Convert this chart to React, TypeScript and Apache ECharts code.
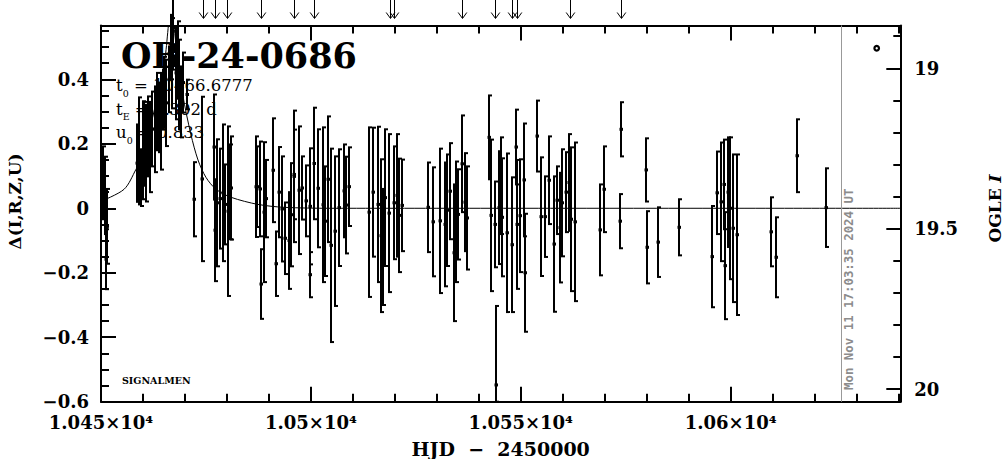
import { useEffect, useRef } from "react";
import * as echarts from "echarts";

// ---------- data (HJD - 2450000, Δ, error) ----------
const hjd = [
  10450.5, 10451.0, 10451.2, 10451.5,
  10458.6, 10459.0, 10459.5, 10459.9, 10460.3, 10460.7, 10461.3, 10461.7, 10462.1, 10462.9, 10463.3, 10463.7, 10464.2, 10464.7, 10465.0, 10465.5, 10466.1, 10466.6, 10466.9, 10467.1, 10467.9, 10468.3, 10468.6, 10469.1, 10469.6, 10470.5,
  10472.2, 10474.0, 10476.9, 10477.2, 10477.6, 10478.3, 10479.0, 10479.5, 10480.2, 10480.7, 10481.0,
  10486.9, 10487.2, 10487.9, 10488.0, 10488.9, 10489.3, 10490.9, 10491.8, 10492.4, 10493.0, 10493.8, 10494.8, 10495.3, 10495.9, 10496.0, 10497.2, 10497.8, 10498.8, 10499.8, 10499.9, 10500.8, 10501.7, 10502.8, 10503.3, 10504.0, 10504.8, 10505.7, 10506.7, 10507.8, 10508.4, 10509.1,
  10513.9, 10514.8, 10515.9, 10516.8, 10517.2, 10517.6, 10518.6, 10519.8, 10520.4, 10521.0, 10521.8,
  10527.8, 10529.0, 10530.8, 10531.9, 10532.5, 10533.2, 10534.0, 10534.5, 10535.1, 10536.0, 10536.7, 10537.2,
  10542.5, 10542.8, 10543.9, 10544.0, 10544.9, 10545.2, 10545.6, 10546.7, 10547.9, 10548.8, 10549.0, 10549.8, 10550.8, 10551.0,
  10553.8, 10554.8, 10555.7, 10556.7, 10557.8, 10558.7, 10559.3, 10559.8, 10560.7, 10561.4, 10561.9, 10562.9,
  10568.9, 10569.8, 10573.6, 10573.8, 10579.9, 10580.0, 10582.8, 10587.7,
  10595.6, 10596.7, 10597.6, 10598.4, 10598.7, 10599.4, 10599.8, 10600.6, 10601.6, 10609.7, 10610.7, 10615.7, 10622.6,
];
const delta = [
  0.079, 0.04, -0.158, -0.056,
  0.14, 0.178, 0.095, 0.18, 0.2, 0.171, 0.223, 0.19, 0.246, 0.245, 0.3, 0.282, 0.27, 0.337, 0.36, 0.327, 0.4, 0.5, 0.45, 0.56, 0.42, 0.46, 0.384, 0.33, 0.39, 0.353,
  0.028, 0.091, 0.19, -0.068, 0.017, 0.03, 0.048, 0.012, -0.009, 0.051, 0.063,
  0.067, 0.067, 0.06, -0.235, -0.012, 0.03, 0.118, -0.172, 0.05, -0.002, -0.093, -0.1, -0.02, 0.099, 0.105, 0.056, 0.063, 0.023, 0.006, -0.206, 0.139, 0.062, 0.011, -0.04, 0.09, -0.115, -0.071, 0.002, 0.054, 0.01, 0.067,
  -0.012, 0.05, 0.012, -0.085, -0.12, 0.033, -0.015, 0.017, 0.04, -0.022, 0.009,
  0.003, -0.042, -0.039, -0.05, -0.006, 0.053, -0.138, -0.042, -0.019, 0.138, 0.019, -0.03,
  0.22, -0.022, -0.05, -0.548, 0.002, 0.07, -0.028, -0.076, -0.113, 0.19, -0.05, -0.023, 0.088, -0.2,
  0.224, -0.026, -0.026, 0.087, -0.111, 0.025, -0.06, 0.017, 0.05, 0.08, -0.034, -0.042,
  -0.067, 0.059, -0.04, 0.245, 0.119, -0.121, -0.105, -0.059,
  -0.15, 0.048, 0.02, 0.074, -0.178, 0.05, 0.0, -0.062, -0.082, -0.073, -0.152, 0.163, 0.002,
];
const deltaErr = [
  0.113, 0.12, 0.093, 0.116,
  0.12, 0.166, 0.088, 0.152, 0.13, 0.15, 0.124, 0.14, 0.116, 0.133, 0.12, 0.108, 0.15, 0.093, 0.11, 0.134, 0.102, 0.1, 0.14, 0.13, 0.144, 0.12, 0.139, 0.11, 0.093, 0.046,
  0.115, 0.255, 0.163, 0.158, 0.197, 0.155, 0.212, 0.124, 0.263, 0.147, 0.16,
  0.156, 0.125, 0.147, 0.108, 0.217, 0.12, 0.161, 0.1, 0.14, 0.163, 0.111, 0.15, 0.16, 0.204, 0.139, 0.198, 0.098, 0.11, 0.18, 0.07, 0.173, 0.183, 0.24, 0.17, 0.195, 0.3, 0.232, 0.181, 0.144, 0.15, 0.122,
  0.263, 0.2, 0.241, 0.237, 0.18, 0.212, 0.245, 0.175, 0.19, 0.176, 0.142,
  0.139, 0.169, 0.224, 0.192, 0.173, 0.149, 0.212, 0.187, 0.14, 0.15, 0.152, 0.16,
  0.13, 0.235, 0.133, 0.245, 0.175, 0.15, 0.183, 0.246, 0.209, 0.116, 0.2, 0.175, 0.175, 0.183,
  0.11, 0.184, 0.125, 0.136, 0.21, 0.105, 0.17, 0.166, 0.124, 0.15, 0.223, 0.246,
  0.141, 0.133, 0.084, 0.084, 0.098, 0.112, 0.108, 0.087,
  0.157, 0.128, 0.184, 0.139, 0.166, 0.17, 0.22, 0.229, 0.249, 0.107, 0.124, 0.113, 0.122,
];

// model curve
const modelT = [10450.0, 10455.5, 10458.3, 10460.0, 10461.9, 10463.8, 10465.2, 10466.7, 10468.1, 10469.5, 10471.4, 10473.1, 10475.0, 10477.4, 10481.0, 10487.4, 10493.6, 10504.8, 10640.4];
const modelDelta = [0.022, 0.059, 0.12, 0.167, 0.26, 0.37, 0.46, 0.62, 0.48, 0.35, 0.23, 0.15, 0.096, 0.059, 0.034, 0.012, 0.003, 0.0, 0.0];

// arrows on top (marked epochs)
const arrowT = [10474.2, 10477.1, 10480.0, 10488.1, 10495.9, 10500.7, 10518.9, 10519.8, 10536.0, 10543.9, 10547.9, 10549.0, 10561.7, 10573.8];
const nowT = 10626.4;

// ticks
const xMajor = [10450, 10500, 10550, 10600];
const xMinor = [10460, 10470, 10480, 10490, 10510, 10520, 10530, 10540, 10560, 10570, 10580, 10590, 10610, 10620, 10630, 10640];
const yMajor = [-0.6, -0.4, -0.2, 0, 0.2, 0.4];
const yMinor = [-0.55, -0.5, -0.45, -0.35, -0.3, -0.25, -0.15, -0.1, -0.05, 0.05, 0.1, 0.15, 0.25, 0.3, 0.35, 0.45, 0.5, 0.55];
const magMajor = [19, 19.5, 20];
const magMinor = [18.9, 19.1, 19.2, 19.3, 19.4, 19.6, 19.7, 19.8, 19.9];

const X_MIN = 10450, X_MAX = 10640.4;
const Y_MIN = -0.6, Y_MAX = 0.567;
const M_MIN = 18.8665, M_MAX = 20.0396;

const FONT = "DejaVu Serif";

export default function App() {
  const ref = useRef<HTMLDivElement>(null);
  useEffect(() => {
    document.body.style.margin = "0";
    const chart = echarts.init(ref.current!, null, { renderer: "svg" });
    const black = "#000";
    const tickStyle = { color: black, width: 2 };
    const labelFont = { color: black, fontFamily: FONT, fontSize: 18, fontWeight: "bold" as const };
    const minorX = (pos: string) => ({
      gridIndex: 0, type: "value", position: pos, min: X_MIN, max: X_MAX,
      axisLine: { show: false, onZero: false },
      axisTick: { show: true, inside: true, length: 8, customValues: xMinor, lineStyle: tickStyle },
      axisLabel: { show: false }, splitLine: { show: false },
    });
    const fmtX = (v: number) => parseFloat((v / 1e4).toFixed(4)).toString() + "×10⁴";
    const fmtY = (v: number) => (Math.abs(v) < 1e-9 ? "0" : v.toFixed(1).replace("-", "−"));

    const option: any = {
      animation: false,
      backgroundColor: "#fff",
      textStyle: { fontFamily: FONT },
      grid: [
        { left: 101, top: 25.5, width: 799.3, height: 376.2, outerBoundsMode: "none", containLabel: false },
        { left: 101, top: 0, width: 799.3, height: 25, outerBoundsMode: "none", containLabel: false },
      ],
      xAxis: [
        {
          gridIndex: 0, type: "value", position: "bottom", min: X_MIN, max: X_MAX,
          axisLine: { show: true, onZero: false, lineStyle: tickStyle },
          axisTick: { show: true, inside: true, length: 15, customValues: xMajor, lineStyle: tickStyle },
          axisLabel: { show: true, customValues: xMajor, margin: 12, formatter: fmtX, ...labelFont },
          splitLine: { show: false },
          name: "HJD  −  2450000", nameLocation: "middle", nameGap: 38,
          nameTextStyle: { ...labelFont, fontSize: 19 },
        },
        minorX("bottom"),
        {
          gridIndex: 0, type: "value", position: "top", min: X_MIN, max: X_MAX,
          axisLine: { show: true, onZero: false, lineStyle: tickStyle },
          axisTick: { show: true, inside: true, length: 15, customValues: xMajor, lineStyle: tickStyle },
          axisLabel: { show: false }, splitLine: { show: false },
        },
        minorX("top"),
        { gridIndex: 1, type: "value", min: X_MIN, max: X_MAX, show: false },
      ],
      yAxis: [
        {
          gridIndex: 0, type: "value", position: "left", min: Y_MIN, max: Y_MAX,
          axisLine: { show: true, onZero: false, lineStyle: tickStyle },
          axisTick: { show: true, inside: true, length: 15, customValues: yMajor, lineStyle: tickStyle },
          axisLabel: { show: true, customValues: yMajor, margin: 12, formatter: fmtY, ...labelFont },
          splitLine: { show: false },
        },
        {
          gridIndex: 0, type: "value", position: "left", min: Y_MIN, max: Y_MAX,
          axisLine: { show: false, onZero: false },
          axisTick: { show: true, inside: true, length: 8, customValues: yMinor, lineStyle: tickStyle },
          axisLabel: { show: false }, splitLine: { show: false },
        },
        {
          gridIndex: 0, type: "value", position: "right", min: M_MIN, max: M_MAX, inverse: true,
          axisLine: { show: true, onZero: false, lineStyle: tickStyle },
          axisTick: { show: true, inside: true, length: 14, customValues: magMajor, lineStyle: tickStyle },
          axisLabel: { show: true, customValues: magMajor, margin: 14, ...labelFont },
          splitLine: { show: false },
        },
        {
          gridIndex: 0, type: "value", position: "right", min: M_MIN, max: M_MAX, inverse: true,
          axisLine: { show: false, onZero: false },
          axisTick: { show: true, inside: true, length: 7, customValues: magMinor, lineStyle: tickStyle },
          axisLabel: { show: false }, splitLine: { show: false },
        },
        { gridIndex: 1, type: "value", min: 0, max: 1, show: false },
      ],
      series: [
        {
          type: "line", xAxisIndex: 0, yAxisIndex: 0,
          data: modelT.map((t, i) => [t, modelDelta[i]]),
          symbol: "none", smooth: 0.3, clip: true,
          lineStyle: { color: black, width: 1 },
          markLine: {
            silent: true, symbol: ["none", "none"], label: { show: false },
            lineStyle: { color: "#999", width: 1, type: "solid" },
            data: [{ xAxis: nowT }],
          },
          z: 2,
        },
        {
          type: "custom", xAxisIndex: 0, yAxisIndex: 0,
          data: hjd.map((t, i) => [t, delta[i], deltaErr[i]]),
          encode: { x: 0, y: 1 },
          clip: false,
          z: 3,
          renderItem: (_p: any, api: any) => {
            const t = api.value(0), v = api.value(1), e = api.value(2);
            const lo = Math.max(v - e, Y_MIN);
            const c = api.coord([t, v]);
            const top = api.coord([t, v + e]);
            const bot = api.coord([t, lo]);
            const x = Math.round(c[0]);
            const st = { stroke: black, lineWidth: 2 };
            return {
              type: "group",
              children: [
                { type: "line", shape: { x1: x, y1: top[1], x2: x, y2: bot[1] }, style: st },
                { type: "line", shape: { x1: x - 1, y1: top[1], x2: x + 3, y2: top[1] }, style: st },
                { type: "line", shape: { x1: x - 1, y1: bot[1], x2: x + 3, y2: bot[1] }, style: st },
                { type: "rect", shape: { x: x - 1.5, y: c[1] - 1.5, width: 3.5, height: 3 }, style: { fill: black } },
              ],
            };
          },
        },
        {
          type: "custom", xAxisIndex: 4, yAxisIndex: 4,
          data: arrowT.map((t) => [t, 0]),
          encode: { x: 0, y: 1 },
          clip: false,
          renderItem: (_p: any, api: any) => {
            const x = Math.round(api.coord([api.value(0), 0])[0]) + 0.5;
            const st = { stroke: black, lineWidth: 1, fill: "none" };
            return {
              type: "group",
              children: [
                { type: "line", shape: { x1: x, y1: 0, x2: x, y2: 18 }, style: st },
                { type: "polyline", shape: { points: [[x - 4.3, 12.5], [x, 18.5], [x + 4.3, 12.5]] }, style: st },
              ],
            };
          },
        },
      ],
      graphic: [
        {
          type: "text", x: 121, y: 55.5, z: 0,
          style: { text: "OB-24-0686", fontFamily: FONT, fontSize: 35, fontWeight: "bold", fill: black, verticalAlign: "middle" },
        },
        ...[
          { y: 77, text: "{m|t}{s|0}{m| = 10466.6777}" },
          { y: 100.5, text: "{m|t}{s|E}{m| = 8.302 d}" },
          { y: 124, text: "{m|u}{s|0}{m| = 0.833}" },
        ].map((l) => ({
          type: "text", x: 116, y: l.y, z: 0,
          style: {
            text: l.text, fill: black, verticalAlign: "top",
            rich: {
              m: { fontFamily: FONT, fontSize: 16.5, lineHeight: 21, verticalAlign: "top", fill: black },
              s: { fontFamily: FONT, fontSize: 9.5, lineHeight: 8, verticalAlign: "bottom", fill: black },
            },
          },
        })),
        {
          type: "text", x: 122, y: 380.5, z: 0,
          style: { text: "SIGNALMEN", fontFamily: FONT, fontSize: 9.5, fontWeight: "bold", fill: black, verticalAlign: "middle" },
        },
        {
          type: "text", x: 848, y: 390, rotation: Math.PI / 2, z: 0,
          style: { text: "Mon Nov 11 17:03:35 2024 UT", fontFamily: "DejaVu Sans Mono", fontSize: 12.4, fontWeight: "bold", fill: "#8c8c8c", align: "left", verticalAlign: "middle" },
        },
        {
          type: "text", x: 15, y: 201.5, rotation: Math.PI / 2,
          style: { text: "Δ(I,R,Z,U)", fontFamily: FONT, fontSize: 17, fontWeight: "bold", fill: black, align: "center", verticalAlign: "middle" },
        },
        {
          type: "text", x: 995, y: 208.5, rotation: Math.PI / 2,
          style: {
            text: "OGLE {i|I}", fontFamily: FONT, fontSize: 17, fontWeight: "bold", fill: black, align: "center", verticalAlign: "middle",
            rich: { i: { fontFamily: FONT, fontSize: 17, fontWeight: "bold", fontStyle: "italic", fill: black } },
          },
        },
        {
          type: "circle", shape: { cx: 876.7, cy: 48.3, r: 2.3 },
          style: { fill: "#fff", stroke: black, lineWidth: 2.2 },
        },
      ],
    };
    chart.setOption(option);
    return () => chart.dispose();
  }, []);
  return (
    <div
      ref={ref}
      style={{ position: "fixed", left: 0, top: 0, width: 1004, height: 459, background: "#fff" }}
    />
  );
}
